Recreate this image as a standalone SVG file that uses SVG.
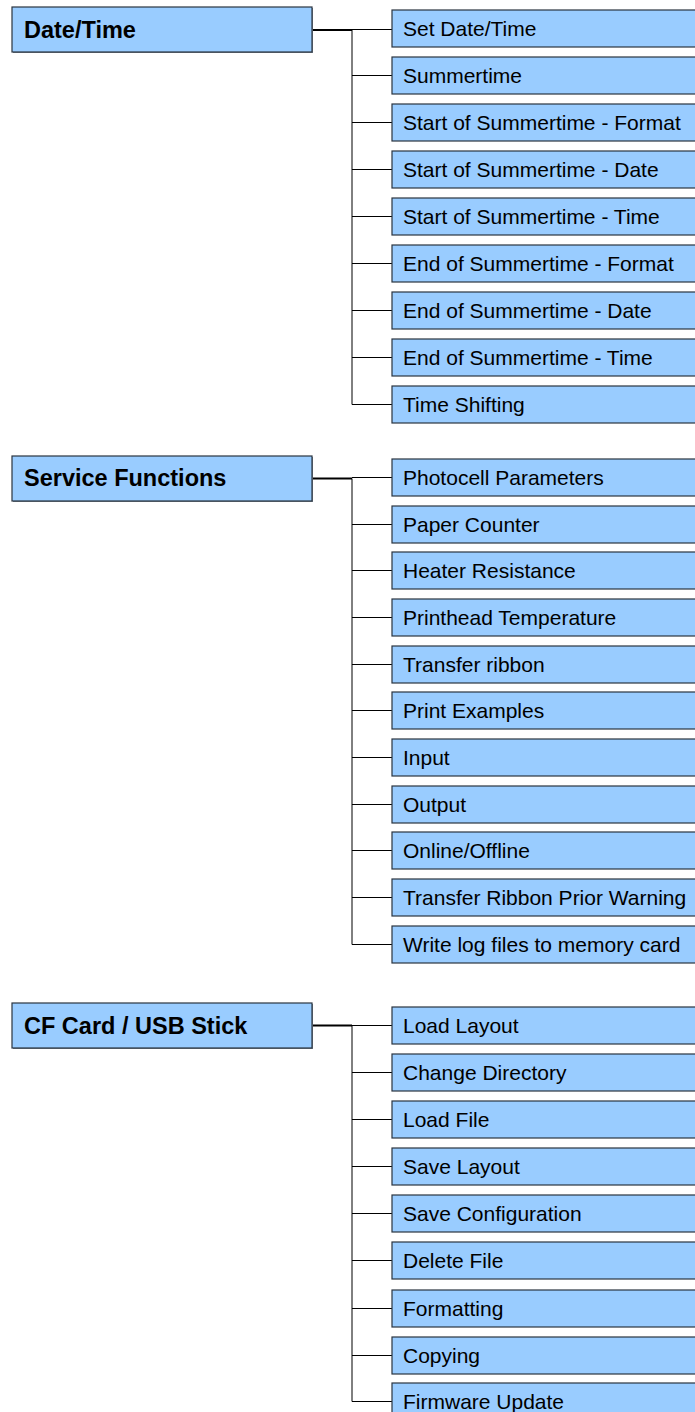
<svg xmlns="http://www.w3.org/2000/svg" width="695" height="1412" viewBox="0 0 695 1412">
<style>
.box{fill:#99ccff;stroke:#2a3440;stroke-width:1.2}
.sh{fill:#7a8590}
.p{font-family:"Liberation Sans",Arial,sans-serif;font-weight:bold;font-size:23.5px;fill:#000}
.c{font-family:"Liberation Sans",Arial,sans-serif;font-size:21px;fill:#000}
.thick{stroke:#000;stroke-width:2;fill:none}
.thin{stroke:#000;stroke-width:1;fill:none}
</style>
<rect width="695" height="1412" fill="#fff"/>
<g id="connectors">
<line class="thick" x1="312" y1="30" x2="352" y2="30"/>
<path class="thin" d="M352 30V404.5M352 29.5H392M352 75.5H392M352 122.5H392M352 169.5H392M352 216.5H392M352 263.5H392M352 310.5H392M352 357.5H392M352 404.5H392"/>
<line class="thick" x1="312" y1="478.5" x2="352" y2="478.5"/>
<path class="thin" d="M352 478.5V944.5M352 477.5H392M352 524.5H392M352 570.5H392M352 617.5H392M352 664.5H392M352 710.5H392M352 757.5H392M352 804.5H392M352 850.5H392M352 897.5H392M352 944.5H392"/>
<line class="thick" x1="312" y1="1025.5" x2="352" y2="1025.5"/>
<path class="thin" d="M352 1025.5V1401.5M352 1025.5H392M352 1072.5H392M352 1119.5H392M352 1166.5H392M352 1213.5H392M352 1260.5H392M352 1308.5H392M352 1355.5H392M352 1401.5H392"/>
</g>
<g id="n-datetime"><rect class="sh" x="13" y="8" width="300" height="45"/><rect class="box" x="12" y="7" width="300" height="45"/><text class="p" x="24" y="37.5">Date/Time</text></g>
<g id="n-dt1"><rect class="box" x="392" y="10" width="320" height="37"/><text class="c" x="403" y="36">Set Date/Time</text></g>
<g id="n-dt2"><rect class="box" x="392" y="57" width="320" height="37"/><text class="c" x="403" y="83">Summertime</text></g>
<g id="n-dt3"><rect class="box" x="392" y="104" width="320" height="37"/><text class="c" x="403" y="130">Start of Summertime - Format</text></g>
<g id="n-dt4"><rect class="box" x="392" y="151" width="320" height="37"/><text class="c" x="403" y="177">Start of Summertime - Date</text></g>
<g id="n-dt5"><rect class="box" x="392" y="198" width="320" height="37"/><text class="c" x="403" y="224">Start of Summertime - Time</text></g>
<g id="n-dt6"><rect class="box" x="392" y="245" width="320" height="37"/><text class="c" x="403" y="271">End of Summertime - Format</text></g>
<g id="n-dt7"><rect class="box" x="392" y="292" width="320" height="37"/><text class="c" x="403" y="318">End of Summertime - Date</text></g>
<g id="n-dt8"><rect class="box" x="392" y="339" width="320" height="37"/><text class="c" x="403" y="365">End of Summertime - Time</text></g>
<g id="n-dt9"><rect class="box" x="392" y="386" width="320" height="37"/><text class="c" x="403" y="412">Time Shifting</text></g>
<g id="n-service"><rect class="sh" x="13" y="457" width="300" height="45"/><rect class="box" x="12" y="456" width="300" height="45"/><text class="p" x="24" y="486">Service Functions</text></g>
<g id="n-sf1"><rect class="box" x="392" y="459" width="320" height="37"/><text class="c" x="403" y="485">Photocell Parameters</text></g>
<g id="n-sf2"><rect class="box" x="392" y="506" width="320" height="37"/><text class="c" x="403" y="532">Paper Counter</text></g>
<g id="n-sf3"><rect class="box" x="392" y="552" width="320" height="37"/><text class="c" x="403" y="578">Heater Resistance</text></g>
<g id="n-sf4"><rect class="box" x="392" y="599" width="320" height="37"/><text class="c" x="403" y="625">Printhead Temperature</text></g>
<g id="n-sf5"><rect class="box" x="392" y="646" width="320" height="37"/><text class="c" x="403" y="672">Transfer ribbon</text></g>
<g id="n-sf6"><rect class="box" x="392" y="692" width="320" height="37"/><text class="c" x="403" y="718">Print Examples</text></g>
<g id="n-sf7"><rect class="box" x="392" y="739" width="320" height="37"/><text class="c" x="403" y="765">Input</text></g>
<g id="n-sf8"><rect class="box" x="392" y="786" width="320" height="37"/><text class="c" x="403" y="812">Output</text></g>
<g id="n-sf9"><rect class="box" x="392" y="832" width="320" height="37"/><text class="c" x="403" y="858">Online/Offline</text></g>
<g id="n-sf10"><rect class="box" x="392" y="879" width="320" height="37"/><text class="c" x="403" y="905">Transfer Ribbon Prior Warning</text></g>
<g id="n-sf11"><rect class="box" x="392" y="926" width="320" height="37"/><text class="c" x="403" y="952">Write log files to memory card</text></g>
<g id="n-cf"><rect class="sh" x="13" y="1004" width="300" height="45"/><rect class="box" x="12" y="1003" width="300" height="45"/><text class="p" x="24" y="1033.5">CF Card / USB Stick</text></g>
<g id="n-cf1"><rect class="box" x="392" y="1007" width="320" height="37"/><text class="c" x="403" y="1033">Load Layout</text></g>
<g id="n-cf2"><rect class="box" x="392" y="1054" width="320" height="37"/><text class="c" x="403" y="1080">Change Directory</text></g>
<g id="n-cf3"><rect class="box" x="392" y="1101" width="320" height="37"/><text class="c" x="403" y="1127">Load File</text></g>
<g id="n-cf4"><rect class="box" x="392" y="1148" width="320" height="37"/><text class="c" x="403" y="1174">Save Layout</text></g>
<g id="n-cf5"><rect class="box" x="392" y="1195" width="320" height="37"/><text class="c" x="403" y="1221">Save Configuration</text></g>
<g id="n-cf6"><rect class="box" x="392" y="1242" width="320" height="37"/><text class="c" x="403" y="1268">Delete File</text></g>
<g id="n-cf7"><rect class="box" x="392" y="1290" width="320" height="37"/><text class="c" x="403" y="1316">Formatting</text></g>
<g id="n-cf8"><rect class="box" x="392" y="1337" width="320" height="37"/><text class="c" x="403" y="1363">Copying</text></g>
<g id="n-cf9"><rect class="box" x="392" y="1383" width="320" height="37"/><text class="c" x="403" y="1409">Firmware Update</text></g>
</svg>
